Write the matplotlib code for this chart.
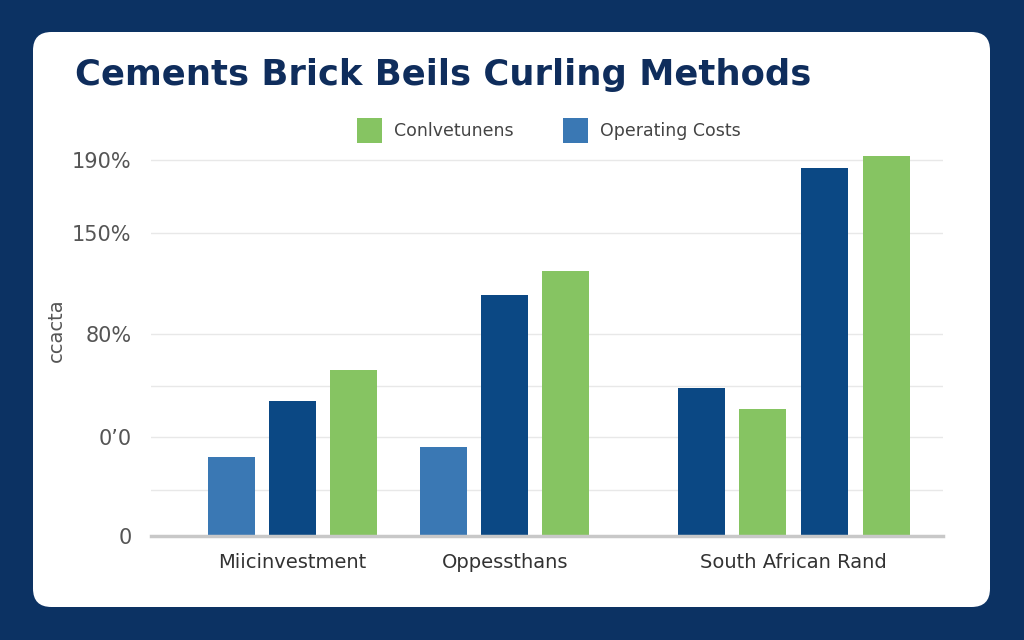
import numpy as np
import matplotlib.pyplot as plt
from matplotlib.patches import FancyBboxPatch, Rectangle

# data
categories = ["Miicinvestment", "Oppessthans", "South African Rand"]
group_values = [[40, 68, 84], [45, 122, 134], [75, 64, 186, 192]]
group_colors = [["#3a78b4", "#0b4884", "#86c462"],
                ["#3a78b4", "#0b4884", "#86c462"],
                ["#0b4884", "#86c462", "#0b4884", "#86c462"]]
tick_vals = [0, 50, 102, 153, 190]
tick_labels = ["0", "0\u20190", "80%", "150%", "190%"]
minor_vals = [23, 76]
legend_labels = ["Conlvetunens", "Operating Costs"]
legend_colors = ["#86c462", "#3a78b4"]

navy = "#0c3263"
fig = plt.figure(figsize=(10.24, 6.4), dpi=100)
fig.patch.set_facecolor(navy)

card = FancyBboxPatch((33 / 1024, 33 / 640), 957 / 1024, 575 / 640,
                      boxstyle="round,pad=0,rounding_size=0.018",
                      transform=fig.transFigure, facecolor="white",
                      edgecolor="none", mutation_aspect=1024 / 640, zorder=-5)
fig.patches.append(card)

ax = fig.add_axes([151 / 1024, 104 / 640, 792 / 1024, 386 / 640])
ax.set_facecolor("none")

group_starts = [1.32, 4.80, 9.02]
step = [1.0, 1.0, 1.01]
for g, vals in enumerate(group_values):
    xs = group_starts[g] + np.arange(len(vals)) * step[g]
    ax.bar(xs, vals, width=0.77, color=group_colors[g], zorder=3)

ax.set_xlim(0, 792 / 61)
ax.set_ylim(0, 195)

for v in tick_vals[1:] + minor_vals:
    ax.axhline(v, color="#e8e8e8", lw=1, zorder=1)
ax.axhline(0, color="#c8c8c8", lw=2.5, zorder=4, clip_on=False)

ax.set_yticks(tick_vals)
ax.set_yticklabels(tick_labels, fontsize=15, color="#555555")
ax.tick_params(axis="y", length=0, pad=14)

centers = [2.32, 5.80, 10.53]
ax.set_xticks(centers)
ax.set_xticklabels(categories, fontsize=14, color="#333333")
ax.tick_params(axis="x", length=0, pad=12)

for s in ax.spines.values():
    s.set_visible(False)

fig.text(56 / 1024, 1 - 330 / 640, "ccacta", rotation=90, fontsize=14,
         color="#555555", ha="center", va="center")

fig.text(75 / 1024, 1 - 75 / 640, "Cements Brick Beils Curling Methods",
         fontsize=25.5, fontweight="bold", color="#0f2d5c", ha="left", va="center")

# legend
leg_x = [357, 563]
for i in range(2):
    fig.patches.append(Rectangle((leg_x[i] / 1024, 1 - 143 / 640), 25 / 1024, 25 / 640,
                                 transform=fig.transFigure, facecolor=legend_colors[i],
                                 edgecolor="none"))
    fig.text((leg_x[i] + 37) / 1024, 1 - 131 / 640, legend_labels[i], fontsize=12.5,
             color="#444444", ha="left", va="center")

fig.savefig("out.png", dpi=100, facecolor=navy)
